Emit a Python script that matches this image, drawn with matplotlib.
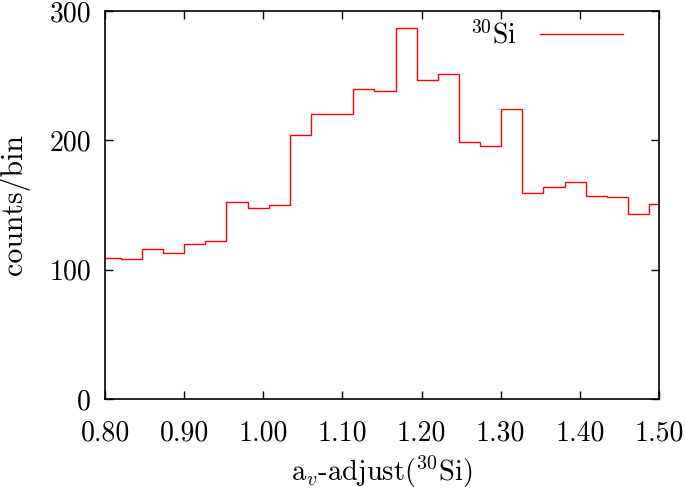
import numpy as np
import matplotlib.pyplot as plt

plt.rcParams['font.family'] = 'serif'
plt.rcParams['font.serif'] = ['cmr10']
plt.rcParams['mathtext.fontset'] = 'cm'
plt.rcParams['axes.unicode_minus'] = False

# bin layout (first and last bins are clipped by the axis limits)
first_edge = 0.7933
last_edge = 1.5142
n_bins = 27

# counts per bin
counts = [109, 108, 116, 113, 120, 122, 152, 148, 150, 204, 220, 220, 240,
          238, 287, 247, 251, 199, 196, 224, 159, 164, 168, 157, 156, 143, 151]

x_ticks = [0.80, 0.90, 1.00, 1.10, 1.20, 1.30, 1.40, 1.50]
x_tick_labels = ['0.80', '0.90', '1.00', '1.10', '1.20', '1.30', '1.40', '1.50']
y_ticks = [0, 100, 200, 300]

edges = np.linspace(first_edge, last_edge, n_bins + 1)

fig = plt.figure(figsize=(6.85, 4.91), dpi=100)
ax = fig.add_axes([0.1533, 0.1874, 0.8087, 0.7902])

ax.stairs(counts, edges, color='#ff0000', linewidth=1.0, label=r'$^{30}$Si')

ax.set_xlim(0.80, 1.50)
ax.set_ylim(0, 300)
ax.set_xticks(x_ticks)
ax.set_xticklabels(x_tick_labels)
ax.set_yticks(y_ticks)
ax.set_yticklabels([str(v) for v in y_ticks])
ax.tick_params(which='both', direction='in', top=True, right=True,
               length=6, width=1, labelsize=20)
ax.tick_params(axis='x', pad=15)
ax.tick_params(axis='y', pad=10)
for s in ax.spines.values():
    s.set_linewidth(1.2)

ax.set_xlabel(r'a$_v$-adjust($^{30}$Si)', fontsize=20.5, labelpad=6)
ax.set_ylabel('counts/bin', fontsize=21.5, labelpad=14)

ax.legend(loc='upper right', frameon=False, markerfirst=False, fontsize=20,
          handlelength=3.0, borderaxespad=0.3, bbox_to_anchor=(0.97, 1.025))

fig.savefig('out.png', dpi=100)
